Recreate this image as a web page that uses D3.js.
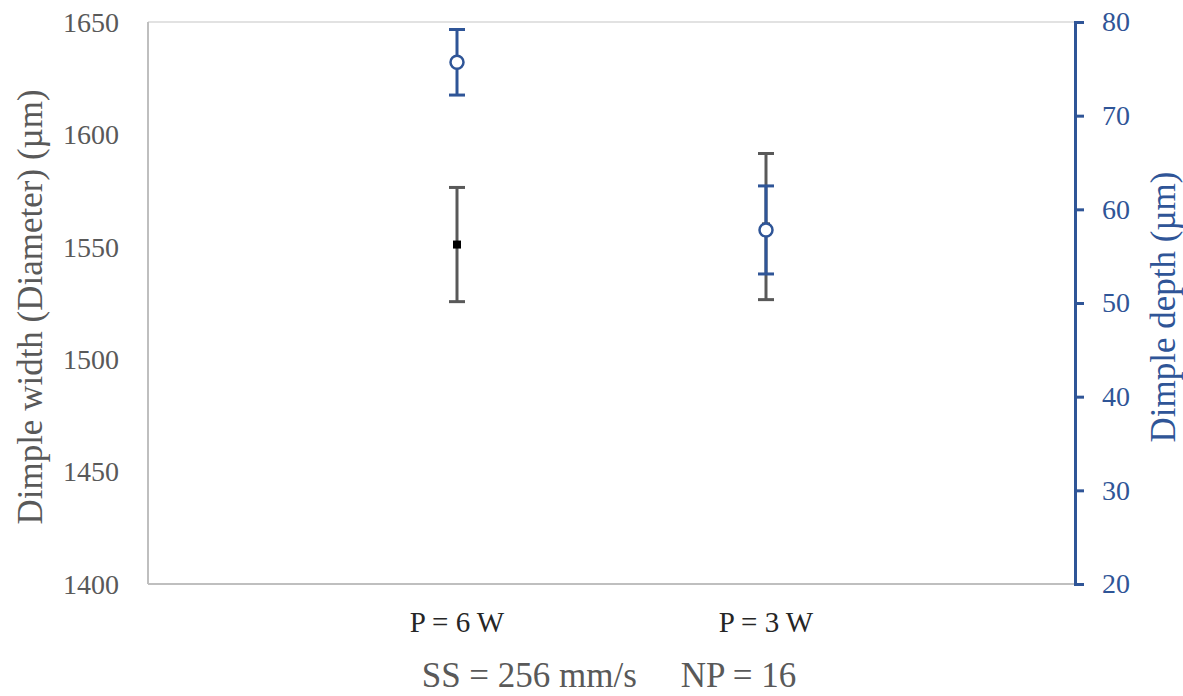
<!DOCTYPE html>
<html>
<head>
<meta charset="utf-8">
<script src="https://cdnjs.cloudflare.com/ajax/libs/d3/7.8.5/d3.min.js"></script>
<style>
  body { margin: 0; background: #fff; }
  svg text { font-family: "Liberation Serif", "Times New Roman", serif; }
</style>
</head>
<body>
<div class="main"></div>
<script>
// data
var categories = ["P = 6 W", "P = 3 W"];
var widthMean = [1551, 1559];
var widthErr = [25.4, 32.5];
var depthMean = [75.7, 57.8];
var depthErr = [3.5, 4.7];
var leftTicks = [1400, 1450, 1500, 1550, 1600, 1650];
var rightTicks = [20, 30, 40, 50, 60, 70, 80];

var width = 1183;
var height = 696;
var m = { left: 148, right: 1075, top: 22, bottom: 584 };

var grey = "#595959";
var blue = "#2F5597";

var svg = d3.select("div.main")
    .append("svg")
    .attr("width", width)
    .attr("height", height)

var x = d3.scaleLinear().domain([0, 3]).range([m.left, m.right])
var yL = d3.scaleLinear().domain([1400, 1650]).range([m.bottom, m.top])
var yR = d3.scaleLinear().domain([20, 80]).range([m.bottom, m.top])

// frame
svg.append("line").attr("x1", m.left).attr("x2", m.right).attr("y1", m.top).attr("y2", m.top)
    .attr("stroke", "#d9d9d9").attr("stroke-width", 1.5)
svg.append("line").attr("x1", m.left).attr("x2", m.left).attr("y1", m.top).attr("y2", m.bottom)
    .attr("stroke", "#bfbfbf").attr("stroke-width", 2)
svg.append("line").attr("x1", m.left).attr("x2", m.right).attr("y1", m.bottom).attr("y2", m.bottom)
    .attr("stroke", "#bfbfbf").attr("stroke-width", 2)

// left axis labels
svg.append("g").selectAll("text")
    .data(leftTicks)
    .enter().append("text")
    .attr("x", 119)
    .attr("y", d => yL(d))
    .attr("dy", "0.35em")
    .attr("text-anchor", "end")
    .attr("fill", grey)
    .style("font-size", "28px")
    .text(d => d)

// right axis
var axisR = svg.append("g")
    .attr("transform", "translate(" + m.right + ",0)")
    .call(d3.axisRight(yR).tickValues(rightTicks).tickSize(9).tickPadding(18))
axisR.select(".domain").attr("stroke", blue).attr("stroke-width", 3)
axisR.selectAll(".tick line").attr("stroke", blue).attr("stroke-width", 3)
axisR.selectAll(".tick text")
    .attr("fill", blue)
    .style("font-size", "28px")
    .style("font-family", "Liberation Serif, serif")

// category labels
svg.append("g").selectAll("text")
    .data(categories)
    .enter().append("text")
    .attr("x", (d, i) => x(i + 1))
    .attr("y", 632)
    .attr("text-anchor", "middle")
    .attr("fill", "#262626")
    .style("font-size", "29px")
    .text(d => d)

// axis titles
svg.append("text")
    .attr("transform", "translate(42,307) rotate(-90)")
    .attr("text-anchor", "middle")
    .attr("fill", grey)
    .style("font-size", "35px")
    .text("Dimple width (Diameter) (µm)")

svg.append("text")
    .attr("transform", "translate(1175,307) rotate(-90)")
    .attr("text-anchor", "middle")
    .attr("fill", blue)
    .style("font-size", "35px")
    .text("Dimple depth (µm)")

svg.append("text")
    .attr("x", 609)
    .attr("y", 687)
    .attr("text-anchor", "middle")
    .attr("fill", grey)
    .style("font-size", "35px")
    .style("white-space", "pre")
    .attr("xml:space", "preserve")
    .text("SS = 256 mm/s     NP = 16")

// error bars
function errorBars(g, mean, err, y, col) {
    var cap = 8;
    g.selectAll("line.v").data(mean).enter().append("line")
        .attr("x1", (d, i) => x(i + 1)).attr("x2", (d, i) => x(i + 1))
        .attr("y1", (d, i) => y(d + err[i])).attr("y2", (d, i) => y(d - err[i]))
        .attr("stroke", col).attr("stroke-width", 3)
    g.selectAll("line.t").data(mean).enter().append("line")
        .attr("x1", (d, i) => x(i + 1) - cap).attr("x2", (d, i) => x(i + 1) + cap)
        .attr("y1", (d, i) => y(d + err[i])).attr("y2", (d, i) => y(d + err[i]))
        .attr("stroke", col).attr("stroke-width", 3)
    g.selectAll("line.b").data(mean).enter().append("line")
        .attr("x1", (d, i) => x(i + 1) - cap).attr("x2", (d, i) => x(i + 1) + cap)
        .attr("y1", (d, i) => y(d - err[i])).attr("y2", (d, i) => y(d - err[i]))
        .attr("stroke", col).attr("stroke-width", 3)
}

var gW = svg.append("g")
errorBars(gW, widthMean, widthErr, yL, "#595959")
gW.selectAll("rect").data(widthMean).enter().append("rect")
    .attr("x", (d, i) => x(i + 1) - 4)
    .attr("y", d => yL(d) - 4)
    .attr("width", 8).attr("height", 8)
    .attr("fill", "#000")

var gD = svg.append("g")
errorBars(gD, depthMean, depthErr, yR, blue)
gD.selectAll("circle").data(depthMean).enter().append("circle")
    .attr("cx", (d, i) => x(i + 1))
    .attr("cy", d => yR(d))
    .attr("r", 6.5)
    .attr("fill", "#fff")
    .attr("stroke", blue)
    .attr("stroke-width", 2.5)
</script>
</body>
</html>
